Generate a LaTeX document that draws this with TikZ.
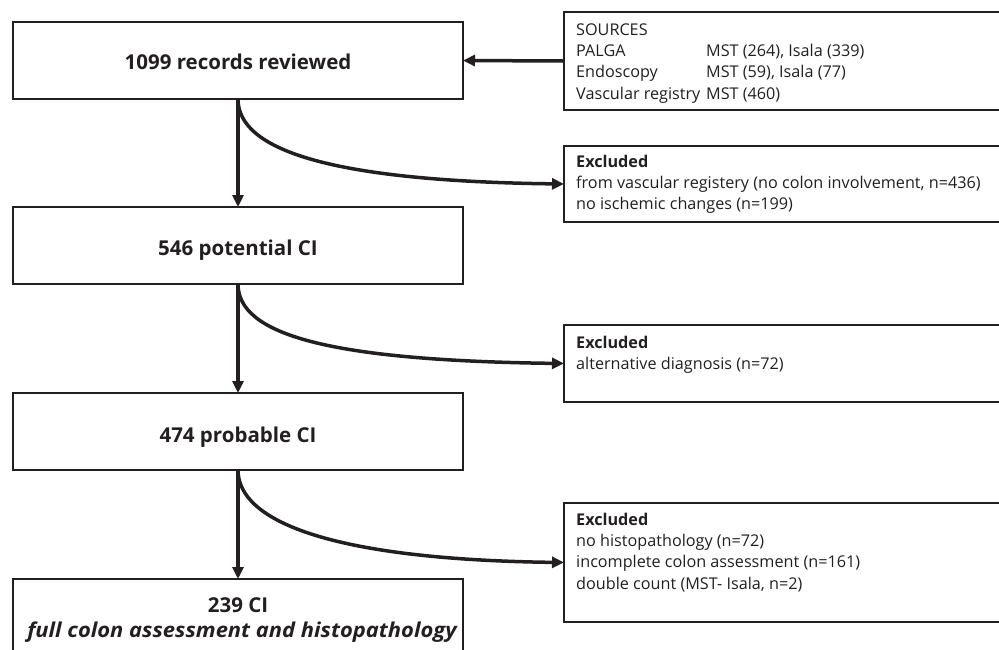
\documentclass[tikz,border=0pt]{standalone}
\usepackage{fontspec}
\setmainfont{Open Sans}
\usetikzlibrary{arrows.meta}
\definecolor{ink}{HTML}{231F20}
\begin{document}
\begin{tikzpicture}[x=1pt,y=-1pt,
  box/.style={draw=ink, line width=1.8pt, inner sep=0pt, outer sep=0pt, rectangle},
  flow/.style={draw=ink, line width=3.5pt, -{Triangle[length=12pt,width=11pt]}},
  big/.style={font=\fontsize{20.5}{24}\selectfont\bfseries, text=ink, inner sep=0pt, anchor=base},
  small/.style={font=\fontsize{16.2}{19}\selectfont, text=ink, inner sep=0pt, anchor=base west},
  smallbold/.style={small, font=\fontsize{16.2}{19}\selectfont\bfseries},
]
\useasboundingbox (0,0) rectangle (999,649);
% left boxes
\node[box, minimum width=450pt, minimum height=77pt] (b1) at (238,60.5) {};
\node[box, minimum width=450pt, minimum height=77pt] (b2) at (238,245.5) {};
\node[box, minimum width=450pt, minimum height=77pt] (b3) at (238,431.5) {};
\node[box, minimum width=450pt, minimum height=121pt] (b4) at (238,639.5) {};
\node[big] (t1) at (238,69) {1099 records reviewed};
\node[big] (t2) at (238,255) {546 potential CI};
\node[big] (t3) at (238,442) {474 probable CI};
\node[big] (t4a) at (238,612) {239 CI};
\node[big, font=\fontsize{20.5}{24}\selectfont\bfseries\itshape, xscale=1.07] (t4b) at (242,637) {full colon assessment and histopathology};
% right boxes
\node[box, minimum width=446pt, minimum height=98pt] (src) at (787,61) {};
\node[box, minimum width=446pt, minimum height=76pt] (ex1) at (787,184) {};
\node[box, minimum width=446pt, minimum height=77pt] (ex2) at (787,363.5) {};
\node[box, minimum width=446pt, minimum height=119pt] (ex3) at (787,562.5) {};
% sources text
\node[small] (s0) at (576,35) {SOURCES};
\node[small] (s1) at (576,56) {PALGA};
\node[small] (s2) at (576,77.5) {Endoscopy};
\node[small] (s3) at (576,99) {Vascular registry};
\node[small] (s1b) at (706,56) {MST (264), Isala (339)};
\node[small] (s2b) at (706,77.5) {MST (59), Isala (77)};
\node[small] (s3b) at (706,99) {MST (460)};
% excluded 1
\node[smallbold] (e10) at (576,167.5) {Excluded};
\node[small] (e11) at (576,188.5) {from vascular registery (no colon involvement, n=436)};
\node[small] (e12) at (576,209.5) {no ischemic changes (n=199)};
% excluded 2
\node[smallbold] (e20) at (576,348) {Excluded};
\node[small] (e21) at (576,369) {alternative diagnosis (n=72)};
% excluded 3
\node[smallbold] (e30) at (576,525) {Excluded};
\node[small] (e31) at (576,546.3) {no histopathology (n=72)};
\node[small] (e32) at (576,567.6) {incomplete colon assessment (n=161)};
\node[small] (e33) at (576,589) {double count (MST- Isala, n=2)};
% connectors
\draw[flow] (src.west) -- (b1.east);
\draw[flow] (b1.south) -- (b2.north);
\draw[flow] (b2.south) -- (b3.north);
\draw[flow] (b3.south) -- (b4.north);
\draw[flow] (b1.south) .. controls +(0,51) and +(-234,-3) .. (ex1.west);
\draw[flow] (b2.south) .. controls +(0,51) and +(-234,-3) .. (ex2.west);
\draw[flow] (b3.south) .. controls +(0,51) and +(-234,-3) .. (ex3.west);
\end{tikzpicture}
\end{document}
